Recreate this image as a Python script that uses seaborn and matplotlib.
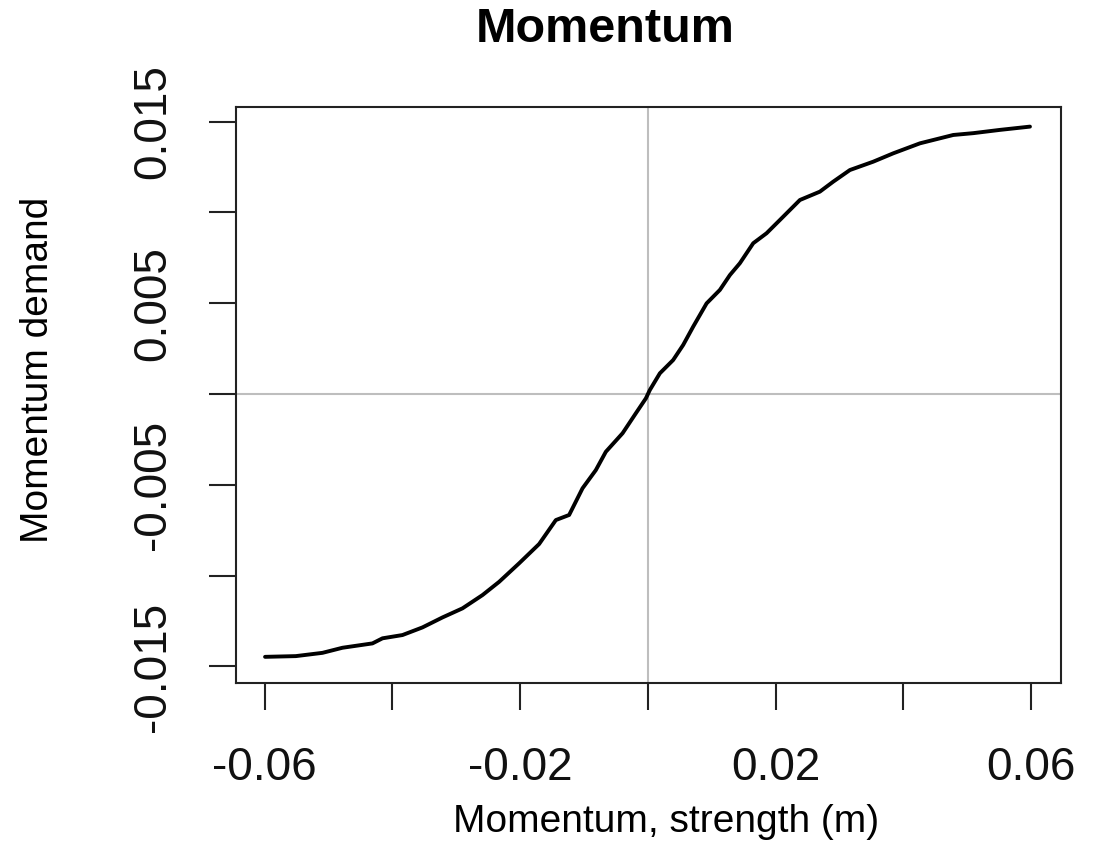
import pandas as pd
import seaborn as sns
import matplotlib.pyplot as plt

# valeurs
momentum_strength = [-0.05995, -0.05514, -0.05096, -0.04783, -0.04313, -0.04156, -0.03843,
                     -0.03530, -0.03216, -0.02903, -0.02590, -0.02329, -0.02016, -0.01703,
                     -0.01441, -0.01233, -0.01023, -0.00815, -0.00658, -0.00396, -0.00188,
                     -0.00031, 0.00031, 0.00188, 0.00396, 0.00553, 0.00710, 0.00920,
                     0.01128, 0.01285, 0.01441, 0.01650, 0.01859, 0.02068, 0.02381,
                     0.02694, 0.02903, 0.03164, 0.03530, 0.03843, 0.04261, 0.04783,
                     0.05096, 0.05514, 0.05984]
momentum_demand = [-0.01447, -0.01443, -0.01425, -0.01397, -0.01373, -0.01345, -0.01327,
                   -0.01285, -0.01230, -0.01180, -0.01107, -0.01034, -0.00932, -0.00826,
                   -0.00694, -0.00666, -0.00519, -0.00419, -0.00318, -0.00216, -0.00106,
                   -0.00024, 0.00022, 0.00114, 0.00187, 0.00270, 0.00371, 0.00499,
                   0.00573, 0.00655, 0.00720, 0.00830, 0.00885, 0.00958, 0.01068,
                   0.01114, 0.01169, 0.01233, 0.01279, 0.01325, 0.01380, 0.01426,
                   0.01436, 0.01454, 0.01472]

x_ticks = [-0.06, -0.04, -0.02, 0.0, 0.02, 0.04, 0.06]
x_labels = ['-0.06', '', '-0.02', '', '0.02', '', '0.06']
y_ticks = [-0.015, -0.01, -0.005, 0.0, 0.005, 0.01, 0.015]
y_labels = ['-0.015', '', '-0.005', '', '0.005', '', '0.015']

sns.set_theme(style='white')
plt.rcParams['font.family'] = ['Liberation Sans', 'DejaVu Sans']
plt.rcParams['text.color'] = 'black'

df = pd.DataFrame({'strength': momentum_strength, 'demand': momentum_demand})

fig = plt.figure(figsize=(10.99, 8.46), dpi=100)
ax = fig.add_axes([236 / 1099, 1 - 683 / 846, (1061 - 236) / 1099, (683 - 107) / 846])

ax.axvline(0, color='#bebebe', lw=1.5, zorder=1)
ax.axhline(0, color='#bebebe', lw=1.5, zorder=1)
sns.lineplot(data=df, x='strength', y='demand', color='black', lw=2.8, ax=ax,
             zorder=3, sort=False)

ax.set_xlim(-0.0645, 0.0647)
ax.set_ylim(-0.01591, 0.0158)
ax.set_xticks(x_ticks)
ax.set_xticklabels(x_labels)
ax.set_yticks(y_ticks)
ax.set_yticklabels(y_labels, rotation=90, va='center')
ax.tick_params(axis='both', length=19.5, width=1.5, color='#222222', labelsize=33,
               labelcolor='#111111', direction='out', bottom=True, left=True)
ax.tick_params(axis='x', pad=26)
ax.tick_params(axis='y', pad=24.5)
for s in ax.spines.values():
    s.set_linewidth(1.5)
    s.set_color('#222222')
ax.set_xlabel('')
ax.set_ylabel('')

fig.text(605 / 1099, 1 - 30 / 846, 'Momentum', ha='center', va='center',
         fontsize=35, fontweight='bold', color='black')
fig.text(666 / 1099, 1 - 822 / 846, 'Momentum, strength (m)', ha='center', va='center',
         fontsize=28, color='black')
fig.text(38 / 1099, 1 - 370 / 846, 'Momentum demand', ha='center', va='center',
         fontsize=28, rotation=90, color='black')

fig.savefig('out.png', dpi=100, facecolor='white')
